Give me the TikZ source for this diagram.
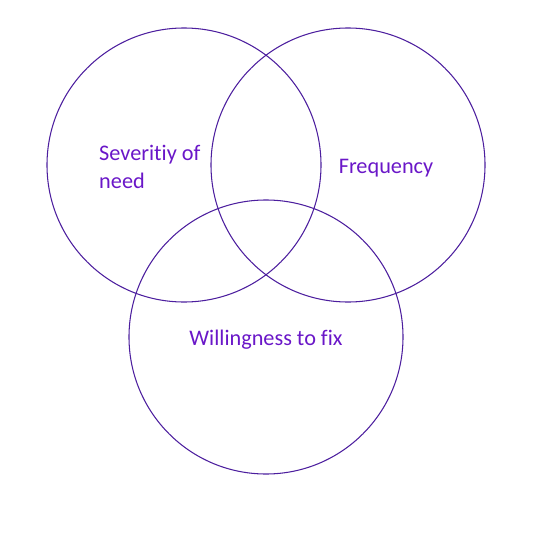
\documentclass[tikz,border=0pt]{standalone}
\usepackage{fontspec}
\setmainfont{Carlito}[Ligatures=NoCommon]
\definecolor{vennline}{HTML}{4C1E9E}
\definecolor{venntext}{HTML}{6A17C8}

\begin{document}
\begin{tikzpicture}[
  x=0.03cm,
  y=-0.03cm,
  every node/.style={font=\fontsize{19}{23.5}\selectfont, venntext},
  ring/.style={draw=vennline, line width=0.9pt, circle, minimum size=8.22cm, inner sep=0pt},
  label/.style={inner sep=0pt, align=left}
]
  % ---- page frame, same size as the reference ----
  \useasboundingbox (0,0) rectangle (556,534);

  % ---- the three sets ----
  \node[ring] (severity) at (184,165) {};
  \node[ring] (frequency) at (348,165) {};
  \node[ring] (willingness) at (266,337) {};

  % ---- set names ----
  \node[label, anchor=west] (severitytext) at (99,167) {Severitiy of\\need};
  \node[label] (frequencytext) at (386,168) {Frequency};
  \node[label] (willingnesstext) at (266,340) {Willingness to fix};
\end{tikzpicture}
\end{document}
